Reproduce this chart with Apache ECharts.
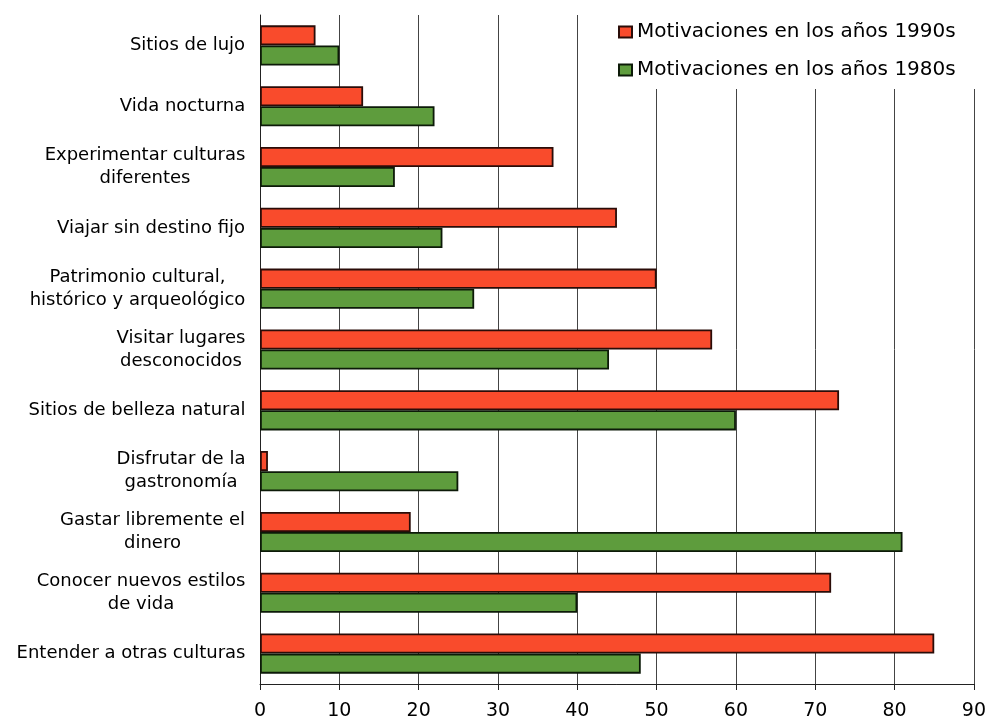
<!DOCTYPE html>
<html>
<head>
<meta charset="utf-8">
<script src="https://cdn.jsdelivr.net/npm/echarts@6/dist/echarts.min.js"></script>
<style>html,body{margin:0;padding:0;background:#fff;}#c{width:989px;height:723px;}</style>
</head>
<body>
<div id="c"></div>
<script>
const categories = [
  "Sitios de lujo",
  "Vida nocturna",
  "Experimentar culturas\ndiferentes",
  "Viajar sin destino fijo",
  "Patrimonio cultural,\nhistórico y arqueológico",
  "Visitar lugares\ndesconocidos",
  "Sitios de belleza natural",
  "Disfrutar de la\ngastronomía",
  "Gastar libremente el\ndinero",
  "Conocer nuevos estilos\nde vida",
  "Entender a otras culturas"
];
const values1990s = [7, 13, 37, 45, 50, 57, 73, 1, 19, 72, 85];
const values1980s = [10, 22, 17, 23, 27, 44, 60, 25, 81, 40, 48];
const seriesNames = ["Motivaciones en los años 1990s", "Motivaciones en los años 1980s"];
const xTicks = [0, 10, 20, 30, 40, 50, 60, 70, 80, 90];

const FONT = "DejaVu Sans";
const LABEL_SIZE = 18;
const ctx = document.createElement('canvas').getContext('2d');
ctx.font = LABEL_SIZE + 'px "' + FONT + '"';
const rich = {};
categories.forEach((c, i) => {
  const w = Math.max(...c.split('\n').map(l => ctx.measureText(l).width));
  rich['c' + i] = {width: Math.ceil(w) + 1, align: 'center', fontSize: LABEL_SIZE, fontFamily: FONT, color: '#000', lineHeight: 23};
});

const chart = echarts.init(document.getElementById('c'), null, {renderer: 'canvas'});
chart.setOption({
  backgroundColor: '#fff',
  animation: false,
  grid: {left: 260, right: 15, top: 15, bottom: 39, containLabel: false},
  legend: {
    orient: 'vertical', left: 610, top: 15,
    icon: 'rect',
    itemWidth: 13, itemHeight: 11, itemGap: 18,
    backgroundColor: '#fff', padding: [7, 20, 9, 8],
    textStyle: {fontFamily: FONT, fontSize: 20, color: '#000'},
    data: seriesNames
  },
  xAxis: {
    type: 'value', min: xTicks[0], max: xTicks[xTicks.length - 1], interval: 10,
    axisLine: {show: true, lineStyle: {color: '#222', width: 1}},
    axisTick: {show: true, length: 6, lineStyle: {color: '#222'}},
    axisLabel: {fontFamily: FONT, fontSize: 19, color: '#000', margin: 18},
    splitLine: {show: true, lineStyle: {color: '#444', width: 1}}
  },
  yAxis: {
    type: 'category', inverse: true, data: categories,
    axisLine: {show: true, lineStyle: {color: '#222'}},
    axisTick: {show: false},
    axisLabel: {
      margin: 14, align: 'right',
      formatter: (v, i) => v.split('\n').map(l => '{c' + i + '|' + l + '}').join('\n'),
      rich: rich
    }
  },
  series: [
    {name: seriesNames[0], type: 'bar', data: values1990s, barGap: '0%', barCategoryGap: '34%',
     itemStyle: {color: '#f94b2c', borderColor: '#2a0c08', borderWidth: 1.8}},
    {name: seriesNames[1], type: 'bar', data: values1980s, barGap: '0%', barCategoryGap: '34%',
     itemStyle: {color: '#5e9c3d', borderColor: '#0c1a08', borderWidth: 1.8}}
  ]
});
</script>
</body>
</html>
